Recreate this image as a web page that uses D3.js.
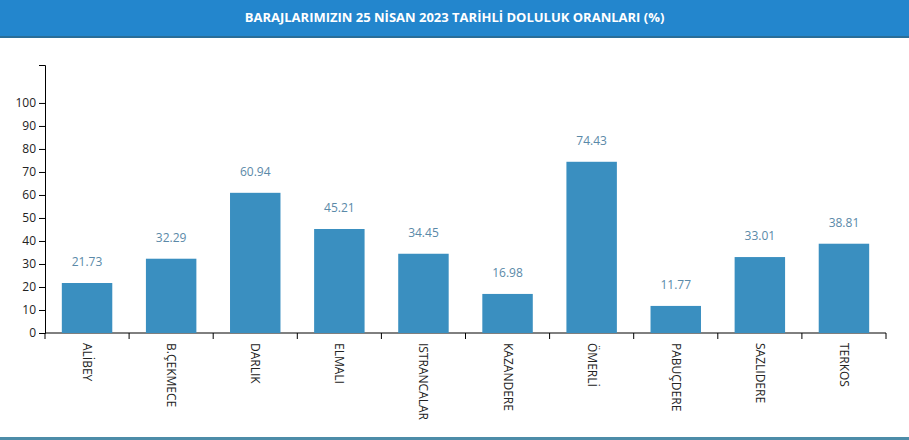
<!DOCTYPE html>
<html>
<head>
<meta charset="utf-8">
<script src="https://cdn.jsdelivr.net/npm/d3@7"></script>
<style>
  body { margin: 0; background: #fff; font-family: "Open Sans", "Noto Sans", sans-serif; }
  #chart { width: 909px; height: 440px; position: relative; overflow: hidden; }
</style>
</head>
<body>
<div id="chart"></div>
<script>
// baraj isimleri ve doluluk oranlari
const barajlar = ['ALİBEY', 'B.ÇEKMECE', 'DARLIK', 'ELMALI', 'ISTRANCALAR', 'KAZANDERE', 'ÖMERLİ', 'PABUÇDERE', 'SAZLIDERE', 'TERKOS'];
const oranlar = [21.73, 32.29, 60.94, 45.21, 34.45, 16.98, 74.43, 11.77, 33.01, 38.81];
const yTicks = [0, 10, 20, 30, 40, 50, 60, 70, 80, 90, 100];
const baslik = 'BARAJLARIMIZIN 25 NİSAN 2023 TARİHLİ DOLULUK ORANLARI (%)';

const W = 909, H = 440;
const svg = d3.select('#chart').append('svg')
  .attr('width', W).attr('height', H);

// baslik bandi
svg.append('rect').attr('x', 0).attr('y', 0).attr('width', W).attr('height', 38).attr('fill', '#2386cd');
svg.append('rect').attr('x', 0).attr('y', 36).attr('width', W).attr('height', 2).attr('fill', '#2a6e98');
svg.append('text')
  .attr('x', W / 2).attr('y', 22)
  .attr('text-anchor', 'middle')
  .attr('fill', '#fff')
  .style('font-size', '13px').style('font-weight', 'bold')
  .text(baslik);

// alt cizgi
svg.append('rect').attr('x', 0).attr('y', 437).attr('width', W).attr('height', 3).attr('fill', '#4d8ca8');

const x = d3.scaleBand().domain(barajlar).range([45, 886]).padding(0);
const y = d3.scaleLinear().domain([0, 116.5]).range([333, 65]);

// y ekseni
const gy = svg.append('g').attr('transform', 'translate(45,0)')
  .call(d3.axisLeft(y).tickValues(yTicks).tickSizeOuter(6));
gy.selectAll('text').style('font-size', '12px').attr('fill', '#222')
  .style('font-family', '"Open Sans", sans-serif');

// x ekseni: tikler band sinirlarinda
const gx = svg.append('g').attr('transform', 'translate(0,333)');
gx.append('path')
  .attr('d', 'M45,0H886V6')
  .attr('stroke', '#000').attr('fill', 'none');
gx.selectAll('line.tk').data(barajlar).enter().append('line')
  .attr('x1', d => x(d)).attr('x2', d => x(d))
  .attr('y1', 0).attr('y2', 6).attr('stroke', '#000');
gx.selectAll('text').data(barajlar).enter().append('text')
  .attr('transform', d => 'translate(' + (x(d) + x.bandwidth() / 2 - 4) + ',10) rotate(90)')
  .attr('text-anchor', 'start')
  .attr('fill', '#222')
  .style('font-size', '12px')
  .text(d => d);

// barlar
const bw = x.bandwidth() * 0.6;
svg.selectAll('rect.bar').data(barajlar).enter().append('rect')
  .attr('class', 'bar')
  .attr('x', d => x(d) + (x.bandwidth() - bw) / 2)
  .attr('width', bw)
  .attr('y', (d, i) => y(oranlar[i]))
  .attr('height', (d, i) => y(0) - y(oranlar[i]))
  .attr('fill', '#3a8fc0');

// deger etiketleri
svg.selectAll('text.val').data(barajlar).enter().append('text')
  .attr('class', 'val')
  .attr('x', d => x(d) + x.bandwidth() / 2)
  .attr('y', (d, i) => y(oranlar[i]) - 17)
  .attr('text-anchor', 'middle')
  .attr('fill', '#5a89a8')
  .style('font-size', '12px')
  .text((d, i) => oranlar[i].toFixed(2));
</script>
</body>
</html>
